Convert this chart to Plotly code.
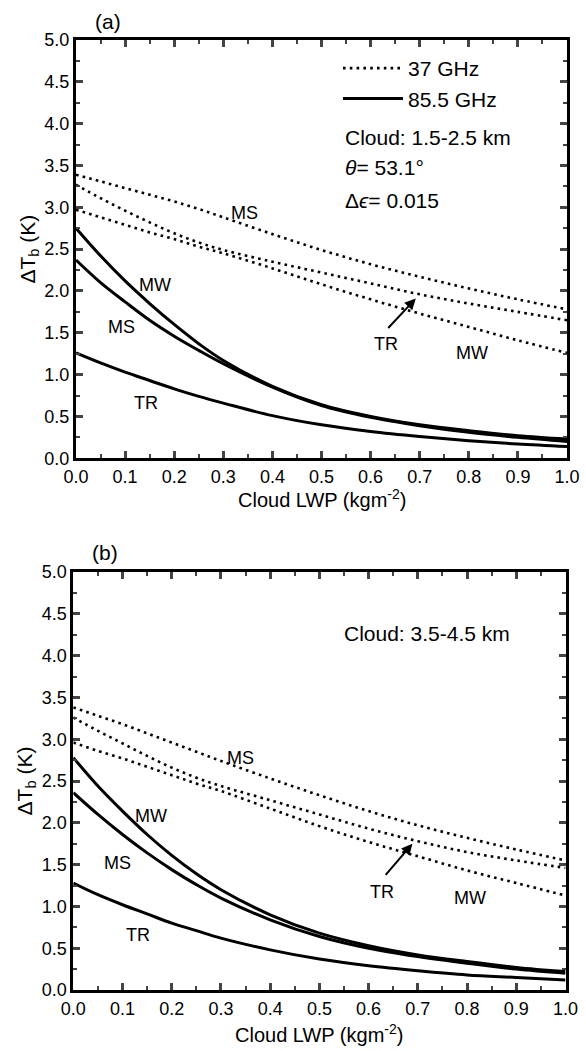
import plotly.graph_objects as go

# Cloud liquid water path (kg m^-2) sampling shared by every curve
lwp = [0.0, 0.05, 0.1, 0.15, 0.2, 0.25, 0.3, 0.4, 0.5, 0.6, 0.7, 0.8, 0.9, 1.0]

# Panel (a): cloud at 1.5-2.5 km
a_ms_37 = [3.39, 3.31, 3.23, 3.15, 3.07, 2.98, 2.88, 2.68, 2.49, 2.32, 2.17, 2.03, 1.90, 1.78]
a_tr_37 = [3.27, 3.11, 2.96, 2.82, 2.69, 2.58, 2.49, 2.35, 2.22, 2.09, 1.96, 1.85, 1.75, 1.65]
a_mw_37 = [2.97, 2.88, 2.79, 2.70, 2.62, 2.53, 2.45, 2.27, 2.08, 1.90, 1.73, 1.57, 1.41, 1.26]
a_mw_85 = [2.75, 2.42, 2.12, 1.85, 1.60, 1.37, 1.17, 0.86, 0.64, 0.50, 0.40, 0.33, 0.27, 0.23]
a_ms_85 = [2.37, 2.10, 1.87, 1.65, 1.46, 1.29, 1.13, 0.85, 0.63, 0.49, 0.39, 0.31, 0.25, 0.20]
a_tr_85 = [1.26, 1.14, 1.03, 0.93, 0.83, 0.74, 0.66, 0.51, 0.40, 0.32, 0.26, 0.21, 0.17, 0.14]

# Panel (b): cloud at 3.5-4.5 km
b_ms_37 = [3.38, 3.28, 3.18, 3.07, 2.96, 2.85, 2.74, 2.53, 2.33, 2.14, 1.97, 1.82, 1.68, 1.55]
b_tr_37 = [3.26, 3.10, 2.95, 2.80, 2.66, 2.54, 2.44, 2.27, 2.10, 1.93, 1.78, 1.65, 1.55, 1.46]
b_mw_37 = [2.96, 2.86, 2.77, 2.67, 2.57, 2.47, 2.38, 2.17, 1.96, 1.77, 1.60, 1.43, 1.28, 1.13]
b_mw_85 = [2.78, 2.44, 2.14, 1.86, 1.61, 1.39, 1.20, 0.90, 0.68, 0.53, 0.42, 0.34, 0.27, 0.22]
b_ms_85 = [2.36, 2.10, 1.86, 1.64, 1.44, 1.26, 1.10, 0.84, 0.64, 0.50, 0.40, 0.32, 0.25, 0.20]
b_tr_85 = [1.28, 1.14, 1.02, 0.91, 0.80, 0.71, 0.62, 0.48, 0.37, 0.29, 0.23, 0.18, 0.15, 0.12]

x_ticks = [0.0, 0.1, 0.2, 0.3, 0.4, 0.5, 0.6, 0.7, 0.8, 0.9, 1.0]
y_ticks = [0.0, 0.5, 1.0, 1.5, 2.0, 2.5, 3.0, 3.5, 4.0, 4.5, 5.0]

FONT = "Liberation Sans"
W, H = 586, 1051

fig = go.Figure()

DOT = dict(color="black", width=2.6, dash="2.6px,4.2px")
SOLID = dict(color="black", width=3)


def add_panel(xa, ya, ms37, tr37, mw37, mw85, ms85, tr85, legend):
    fig.add_trace(go.Scatter(x=lwp, y=ms37, mode="lines", line=DOT, line_shape="spline",
                             xaxis=xa, yaxis=ya, name="37 GHz", showlegend=legend))
    fig.add_trace(go.Scatter(x=lwp, y=tr37, mode="lines", line=DOT, line_shape="spline",
                             xaxis=xa, yaxis=ya, showlegend=False))
    fig.add_trace(go.Scatter(x=lwp, y=mw37, mode="lines", line=DOT, line_shape="spline",
                             xaxis=xa, yaxis=ya, showlegend=False))
    fig.add_trace(go.Scatter(x=lwp, y=mw85, mode="lines", line=SOLID, line_shape="spline",
                             xaxis=xa, yaxis=ya, name="85.5 GHz", showlegend=legend))
    fig.add_trace(go.Scatter(x=lwp, y=ms85, mode="lines", line=SOLID, line_shape="spline",
                             xaxis=xa, yaxis=ya, showlegend=False))
    fig.add_trace(go.Scatter(x=lwp, y=tr85, mode="lines", line=SOLID, line_shape="spline",
                             xaxis=xa, yaxis=ya, showlegend=False))


add_panel("x", "y", a_ms_37, a_tr_37, a_mw_37, a_mw_85, a_ms_85, a_tr_85, True)
add_panel("x2", "y2", b_ms_37, b_tr_37, b_mw_37, b_mw_85, b_ms_85, b_tr_85, False)

tick_font = dict(family=FONT, size=18, color="black")
title_font = dict(family=FONT, size=21, color="black")


def xaxis(domain, anchor):
    return dict(domain=domain, anchor=anchor, range=[0, 1], tickvals=x_ticks,
                tickformat=".1f", ticks="inside", ticklen=7, tickwidth=2.5,
                minor=dict(dtick=0.05, tick0=0, ticks="inside", ticklen=4, tickwidth=2),
                showline=True, linewidth=3, linecolor="black", mirror="allticks",
                showgrid=False, zeroline=False, tickfont=tick_font, automargin=False)


def yaxis(domain, anchor):
    return dict(domain=domain, anchor=anchor, range=[0, 5], tickvals=y_ticks,
                tickformat=".1f", ticks="inside", ticklen=7, tickwidth=2.5,
                minor=dict(dtick=0.25, tick0=0, ticks="inside", ticklen=4, tickwidth=2),
                showline=True, linewidth=3, linecolor="black", mirror="allticks",
                showgrid=False, zeroline=False, tickfont=tick_font, automargin=False,
                title=dict(text="ΔT<sub>b</sub> (K)", font=title_font, standoff=4))


lbl = dict(family=FONT, size=18, color="black")
ann_font = dict(family=FONT, size=21, color="black")
xtitle_font = dict(family=FONT, size=20, color="black")

annotations = []


def curve_labels(xr, yr, ms37, mw85, ms85, tr85, tr37_lbl, tr37_tail, tr37_tip, mw37_lbl):
    for (x, y, t) in [ms37 + ("MS",), mw85 + ("MW",), ms85 + ("MS",), tr85 + ("TR",),
                      tr37_lbl + ("TR",), mw37_lbl + ("MW",)]:
        annotations.append(dict(x=x, y=y, xref=xr, yref=yr, text=t, showarrow=False, font=lbl,
                                xanchor="center", yanchor="middle"))
    annotations.append(dict(x=tr37_tip[0], y=tr37_tip[1], ax=tr37_tail[0], ay=tr37_tail[1],
                            xref=xr, yref=yr, axref=xr, ayref=yr, text="", showarrow=True,
                            arrowhead=2, arrowsize=1.1, arrowwidth=2, arrowcolor="black"))


curve_labels("x", "y", (0.343, 2.93), (0.16, 2.07), (0.092, 1.57), (0.143, 0.66),
             (0.631, 1.37), (0.633, 1.54), (0.692, 1.91), (0.807, 1.26))
curve_labels("x2", "y2", (0.339, 2.78), (0.158, 2.08), (0.09, 1.52), (0.131, 0.66),
             (0.628, 1.17), (0.632, 1.36), (0.689, 1.75), (0.806, 1.10))

# Panel titles
for (px, py, t) in [(108, 22, "(a)"), (105, 552, "(b)")]:
    annotations.append(dict(x=px / W, y=1 - py / H, xref="paper", yref="paper", text=t,
                            xanchor="center", yanchor="middle", showarrow=False, font=ann_font))
# x-axis titles
for (px, py) in [(321.5, 498), (319.4, 1033)]:
    annotations.append(dict(x=px / W, y=1 - py / H, xref="paper", yref="paper",
                            text="Cloud LWP (kgm<sup>-2</sup>)", xanchor="center",
                            yanchor="middle", showarrow=False, font=xtitle_font))
# Case descriptions
for (px, py, t) in [(343, 137, "Cloud: 1.5-2.5 km"), (343, 167, "<i>θ</i>= 53.1°"),
                    (343, 200, "Δ<i>ϵ</i>= 0.015"), (342, 633, "Cloud: 3.5-4.5 km")]:
    annotations.append(dict(x=px / W, y=1 - py / H, xref="paper", yref="paper", text=t,
                            xanchor="left", yanchor="middle", showarrow=False, font=ann_font))

fig.update_layout(
    width=W, height=H, margin=dict(l=0, r=0, t=0, b=0, autoexpand=False),
    paper_bgcolor="white", plot_bgcolor="white",
    xaxis=xaxis([76 / W, 567 / W], "y"),
    yaxis=yaxis([1 - 458.3 / H, 1 - 40 / H], "x"),
    xaxis2=xaxis([73.3 / W, 565.5 / W], "y2"),
    yaxis2=yaxis([1 - 990 / H, 1 - 572 / H], "x2"),
    legend=dict(x=338 / W, y=1 - 48 / H, xanchor="left", yanchor="top",
                font=ann_font, itemwidth=60, bgcolor="rgba(0,0,0,0)", tracegroupgap=0),
    annotations=annotations,
    font=dict(family=FONT, color="black"),
)

fig.write_html("out.html")
